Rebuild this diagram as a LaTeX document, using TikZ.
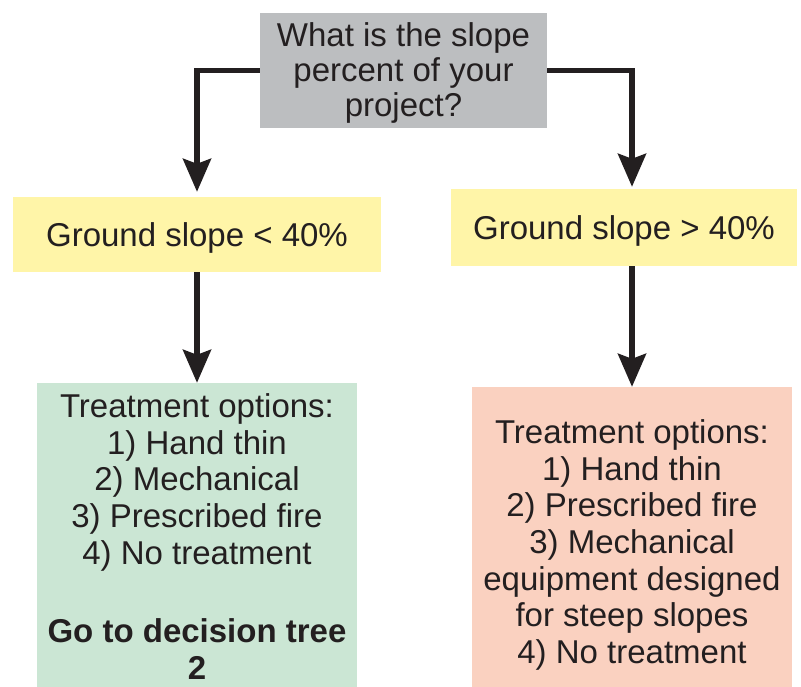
\documentclass[tikz,border=0pt]{standalone}
\usepackage{fontspec}
\setmainfont{Liberation Sans}
\usetikzlibrary{arrows.meta}
\definecolor{asktone}{HTML}{BCBEC0}
\definecolor{slopetone}{HTML}{FFF5A8}
\definecolor{lowtone}{HTML}{CBE6D4}
\definecolor{hightone}{HTML}{FAD1C0}
\definecolor{inkblack}{HTML}{231F20}
\tikzstyle{question} = [rectangle, minimum width=287pt, minimum height=115pt, text centered, align=center, fill=asktone, inner sep=0pt, text=inkblack, text depth=1pt, font=\fontsize{33}{35}\selectfont]
\tikzstyle{slope}    = [rectangle, text centered, align=center, fill=slopetone, inner sep=0pt, text=inkblack, text depth=0pt, font=\fontsize{33}{36.5}\selectfont]
\tikzstyle{options}  = [rectangle, minimum width=320pt, text centered, align=center, inner sep=0pt, text=inkblack, font=\fontsize{33}{36.6}\selectfont]
\tikzstyle{arrow}    = [line width=5.5pt, draw=inkblack, -{Stealth[length=33pt, width=28pt, inset=5pt]}]

\begin{document}
\begin{tikzpicture}[x=1pt, y=-1pt]

    \useasboundingbox (0,0) rectangle (801,686);

    \node (question)  [question] at (403.5,70.5) {What is the slope\\percent of your\\project?};
    \node (lowslope)  [slope, minimum width=368pt, minimum height=75pt] at (197,234.5) {Ground slope < 40\%};
    \node (highslope) [slope, minimum width=346pt, minimum height=77pt] at (624,227.5) {Ground slope > 40\%};
    % boxes run on past the lower edge of the page
    \node (lowopts)   [options, fill=lowtone, minimum height=307pt] at (197,536.5)
        {Treatment options:\\1) Hand thin\\2) Mechanical\\3) Prescribed fire\\4) No treatment\\[42pt]\textbf{Go to decision tree}\\\textbf{2}};
    \node (highopts)  [options, fill=hightone, minimum height=316pt] at (632,545)
        {Treatment options:\\1) Hand thin\\2) Prescribed fire\\3) Mechanical\\equipment designed\\for steep slopes\\4) No treatment};

    \draw [arrow, shorten >=5pt] (question.west) -| (lowslope.north);
    \draw [arrow, shorten >=2pt] (question.east) -| (highslope.north -| highopts.north);
    \draw [arrow] (lowslope) -- (lowopts);
    \draw [arrow] (highslope.south -| highopts.north) -- (highopts.north);

\end{tikzpicture}
\end{document}
